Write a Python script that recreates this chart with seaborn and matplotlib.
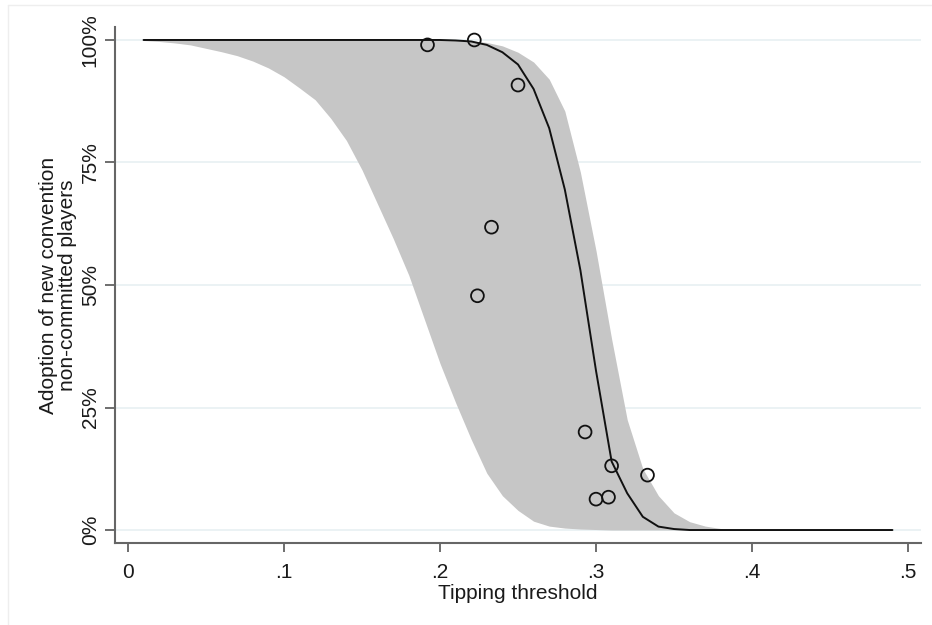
import numpy as np
import pandas as pd
import matplotlib
matplotlib.use("Agg")
import matplotlib.pyplot as plt
import seaborn as sns
from matplotlib.lines import Line2D

# ---- data ----
x_grid = [round(0.01 * i, 2) for i in range(1, 50)]  # 0.01 ... 0.49

line_y = ([1.0] * 20 +
          [0.999, 0.997, 0.99, 0.975, 0.95, 0.90, 0.82, 0.695, 0.53, 0.325,
           0.14, 0.075, 0.027, 0.007, 0.002] + [0.0] * 14)

band_upper = ([1.0] * 21 +
              [0.998, 0.995, 0.988, 0.975, 0.955, 0.92, 0.855, 0.73, 0.57,
               0.39, 0.225, 0.125, 0.07, 0.035, 0.017, 0.008, 0.003, 0.001] +
              [0.0] * 10)

band_lower = ([0.999, 0.997, 0.994, 0.99, 0.983, 0.976, 0.968, 0.957, 0.943,
               0.925, 0.902, 0.878, 0.84, 0.795, 0.735, 0.665, 0.595, 0.52,
               0.43, 0.34, 0.26, 0.185, 0.116, 0.07, 0.04, 0.018, 0.008,
               0.004, 0.002, 0.001] + [0.0] * 19)

obs_x = [0.192, 0.222, 0.250, 0.233, 0.224, 0.293, 0.310, 0.333, 0.300, 0.308]
obs_y = [0.99, 1.00, 0.908, 0.618, 0.478, 0.20, 0.131, 0.112, 0.063, 0.067]

x_ticks = [0, 0.1, 0.2, 0.3, 0.4, 0.5]
x_ticklabels = ["0", ".1", ".2", ".3", ".4", ".5"]
y_ticks = [0, 0.25, 0.5, 0.75, 1.0]
y_ticklabels = ["0%", "25%", "50%", "75%", "100%"]

x_label = "Tipping threshold"
y_label = "Adoption of new convention\nnon-committed players"

# ---- plotting ----
sns.set_theme(style="white")
plt.rcParams["font.family"] = ["Liberation Sans", "DejaVu Sans"]

fig = plt.figure(figsize=(9.32, 6.25), dpi=100)
ax = fig.add_axes([115 / 932, 1 - 543 / 625, (921 - 115) / 932, (543 - 27) / 625])

df_line = pd.DataFrame({"x": x_grid, "y": line_y})
df_obs = pd.DataFrame({"x": obs_x, "y": obs_y})

for yt in y_ticks:
    ax.axhline(yt, color="#e9f1f3", lw=1.3, zorder=0)

ax.fill_between(x_grid, band_lower, band_upper, color="#c6c6c6", lw=0, zorder=1)
sns.lineplot(data=df_line, x="x", y="y", ax=ax, color="#111111", lw=1.4, zorder=3)
sns.scatterplot(data=df_obs, x="x", y="y", ax=ax, s=85, facecolor="none",
                edgecolor="#111111", linewidth=1.3, zorder=4)

ax.set_xlim(-0.0083, 0.5083)
ax.set_ylim(-0.0265, 1.0265)
ax.set_xticks(x_ticks)
ax.set_xticklabels(x_ticklabels)
ax.set_yticks(y_ticks)
ax.set_yticklabels(y_ticklabels, rotation=90, va="center")

for s in ["top", "right"]:
    ax.spines[s].set_visible(False)
for s in ["left", "bottom"]:
    ax.spines[s].set_color("#666666")
    ax.spines[s].set_linewidth(1.5)

ax.tick_params(axis="both", which="major", direction="out", color="#555555",
               width=1.2, labelsize=15, labelcolor="#1a1a1a",
               bottom=True, left=True)
ax.tick_params(axis="x", length=6.5, pad=8)
ax.tick_params(axis="y", length=7, pad=4)

ax.set_xlabel(x_label, fontsize=15, color="#1a1a1a", labelpad=1)
ax.set_ylabel(y_label, fontsize=15, color="#1a1a1a", labelpad=3, linespacing=0.95)

# light outer frame of the graph region
fig.add_artist(Line2D([8 / 932, 8 / 932], [0, 1 - 5 / 625], transform=fig.transFigure,
                      color="#eeeeee", lw=1))
fig.add_artist(Line2D([8 / 932, 1], [1 - 5 / 625, 1 - 5 / 625], transform=fig.transFigure,
                      color="#eeeeee", lw=1))

fig.savefig("out.png", dpi=100)
